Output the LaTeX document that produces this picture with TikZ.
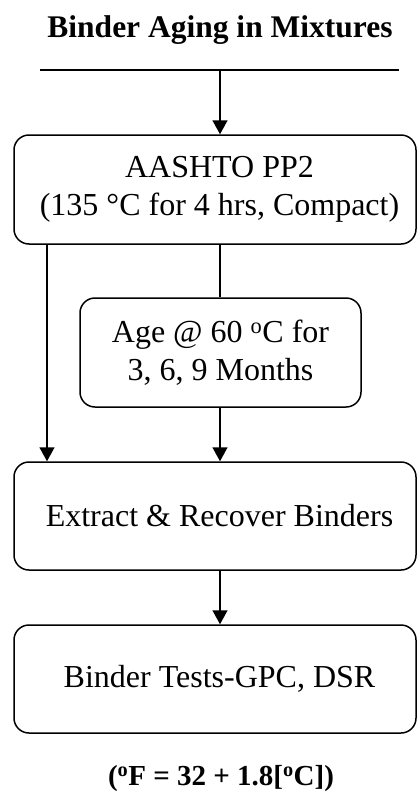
\documentclass[tikz,border=0pt]{standalone}
\usepackage{fontspec}
\setmainfont{Liberation Serif}
\usetikzlibrary{arrows.meta}
\newcommand{\rsh}{\hspace*{9pt}}
\begin{document}
\begin{tikzpicture}[x=1pt,y=-1pt,
  box/.style={draw,line width=1.5pt,rounded corners=15pt,rectangle,inner sep=0pt,
    align=center,font=\fontsize{32}{38}\selectfont},
  conn/.style={line width=1.5pt},
  arr/.style={line width=1.5pt,-{Triangle[length=14pt,width=15pt]}}]
\useasboundingbox (0,0) rectangle (417,806);
\node[font=\bfseries\fontsize{31.5}{36}\selectfont] (title) at (220,30) {Binder Aging in Mixtures};
\coordinate (tl) at (40,70);
\coordinate (tr) at (399,70);
\coordinate (tm) at (220,70);
\coordinate (mx) at (220,0);
\coordinate (lx) at (47,0);
\node[box,minimum width=402pt,minimum height=109pt] (b1) at (215,189.5) {\rsh AASHTO PP2\\\rsh(135 °C for 4 hrs, Compact)};
\node[box,minimum width=281pt,minimum height=109pt] (b2) at (220.5,352.5) {Age @ 60 \textsuperscript{o}C for\\3, 6, 9 Months};
\node[box,minimum width=402pt,minimum height=108pt] (b3) at (215,516) {\rsh Extract \& Recover Binders};
\node[box,minimum width=402pt,minimum height=108pt] (b4) at (215,679) {\rsh Binder Tests-GPC, DSR};
\node[font=\bfseries\fontsize{29}{34}\selectfont] (foot) at (221,779) {(\textsuperscript{o}F = 32 + 1.8[\textsuperscript{o}C])};
\draw[conn] (tl) -- (tr);
\draw[arr] (tm) -- (tm |- b1.north);
\draw[conn] (b1.south -| mx) -- (b2.north -| mx);
\draw[arr] (b1.south -| lx) -- (b3.north -| lx);
\draw[arr] (b2.south -| mx) -- (b3.north -| mx);
\draw[arr] (b3.south -| mx) -- (b4.north -| mx);
\end{tikzpicture}
\end{document}
